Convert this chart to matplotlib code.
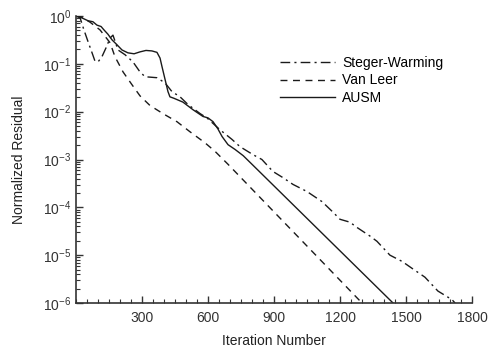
import numpy as np
import matplotlib
matplotlib.use("Agg")
import matplotlib.pyplot as plt
from matplotlib.ticker import FixedLocator, MultipleLocator, LogLocator, NullFormatter

plt.rcParams['font.family'] = ['Liberation Sans', 'DejaVu Sans']

# Steger-Warming (dash-dot)
sw_iter = [0, 18, 36, 55, 73, 86, 100, 118, 136, 155, 168, 191, 223, 259, 291, 314, 368, 405,
           436, 473, 509, 564, 595, 655, 709, 745, 805, 845, 895, 941, 986, 1050, 1118, 1168,
           1200, 1245, 1277, 1336, 1368, 1427, 1482, 1532, 1586, 1645, 1709, 1723]
sw_log = [0, -0.03, -0.29, -0.54, -0.77, -0.94, -0.96, -0.85, -0.67, -0.46, -0.40, -0.71, -0.81,
          -0.96, -1.17, -1.27, -1.29, -1.40, -1.58, -1.69, -1.85, -2.04, -2.13, -2.38, -2.58,
          -2.73, -2.90, -3.00, -3.25, -3.38, -3.52, -3.67, -3.88, -4.10, -4.25, -4.31, -4.42,
          -4.60, -4.71, -5.00, -5.13, -5.29, -5.46, -5.75, -5.93, -6.0]

# Van Leer (dashed)
vl_iter = [0, 27, 64, 109, 155, 177, 214, 255, 291, 336, 395, 459, 518, 586, 632, 691, 1300]
vl_log = [0, -0.03, -0.13, -0.29, -0.56, -0.85, -1.17, -1.44, -1.67, -1.87, -2.04, -2.21,
          -2.42, -2.65, -2.83, -3.10, -6.0]

# AUSM (solid)
au_iter = [0, 27, 55, 77, 95, 114, 127, 145, 164, 186, 209, 236, 264, 291, 318, 345, 368, 382,
           391, 405, 418, 427, 445, 486, 532, 577, 600, 623, 645, 664, 691, 723, 760, 800, 1441]
au_log = [0, -0.04, -0.10, -0.12, -0.19, -0.22, -0.29, -0.38, -0.50, -0.60, -0.71, -0.77, -0.79,
          -0.75, -0.72, -0.73, -0.76, -0.88, -1.06, -1.33, -1.58, -1.69, -1.72, -1.80, -1.96,
          -2.10, -2.13, -2.21, -2.36, -2.52, -2.69, -2.79, -2.92, -3.10, -6.0]

labels = ["Steger-Warming", "Van Leer", "AUSM"]
x_ticks = [300, 600, 900, 1200, 1500, 1800]

fig = plt.figure(figsize=(4.9, 3.53), dpi=100)
ax = fig.add_axes([76/490, 1 - 303/353, (472 - 76)/490, (303 - 16)/353])

col = '#1a1a1a'
ax.plot(sw_iter, np.power(10.0, sw_log), color=col, lw=1.0, dashes=[7, 3, 1.5, 3], label=labels[0])
ax.plot(vl_iter, np.power(10.0, vl_log), color=col, lw=1.0, dashes=[5, 4], label=labels[1])
ax.plot(au_iter, np.power(10.0, au_log), color=col, lw=1.0, label=labels[2])

ax.set_yscale('log')
ax.set_xlim(0, 1800)
ax.set_ylim(1e-6, 1e0)
ax.xaxis.set_major_locator(FixedLocator(x_ticks))
ax.xaxis.set_minor_locator(MultipleLocator(50))
ax.xaxis.set_minor_formatter(NullFormatter())
ax.yaxis.set_major_locator(LogLocator(base=10, numticks=10))
ax.yaxis.set_minor_locator(LogLocator(base=10, subs=np.arange(2, 10), numticks=20))
ax.yaxis.set_minor_formatter(NullFormatter())

for s in ['top', 'right']:
    ax.spines[s].set_visible(False)
for s in ['left', 'bottom']:
    ax.spines[s].set_color('#333333')
    ax.spines[s].set_linewidth(1.2)

ax.tick_params(which='both', direction='in', colors='#333333', labelsize=10)
ax.tick_params(which='major', length=5, width=1)
ax.tick_params(which='minor', length=3, width=0.8)
ax.tick_params(axis='x', pad=6)

ax.set_xlabel("Iteration Number", fontsize=10, color='#222222', labelpad=6)
ax.set_ylabel("Normalized Residual", fontsize=10, color='#222222', labelpad=12)

leg = ax.legend(loc='upper left', bbox_to_anchor=(0.50, 0.88), frameon=False, fontsize=10,
                handlelength=4.0, handletextpad=0.5, labelspacing=0.25, borderaxespad=0)

fig.savefig("out.png", dpi=100)
